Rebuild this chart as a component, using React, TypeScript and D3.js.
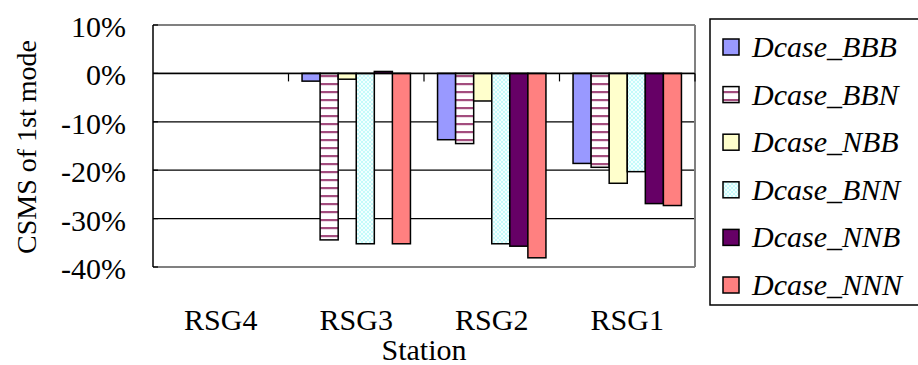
import React from 'react';
import * as d3 from 'd3';

const stations = ['RSG4', 'RSG3', 'RSG2', 'RSG1'];
const seriesNames = ['Dcase_BBB', 'Dcase_BBN', 'Dcase_NBB', 'Dcase_BNN', 'Dcase_NNB', 'Dcase_NNN'];
// values per station (fraction), null = no bar
const BBB = [null, -0.016, -0.137, -0.186];
const BBN = [null, -0.344, -0.145, -0.194];
const NBB = [null, -0.012, -0.057, -0.227];
const BNN = [null, -0.352, -0.352, -0.203];
const NNB = [null, 0.004, -0.357, -0.269];
const NNN = [null, -0.352, -0.381, -0.273];
const seriesValues = [BBB, BBN, NBB, BNN, NNB, NNN];
const yTicks = [0.1, 0, -0.1, -0.2, -0.3, -0.4];

const fills = ['#9999ff', 'url(#stripes)', '#ffffcc', 'url(#hatch)', '#660066', '#ff8080'];
const FONT = 'Liberation Serif, Tinos, DejaVu Serif, serif';

const App: React.FC = () => {
  const W = 918, H = 365;
  const left = 153, right = 695, top = 25, bottom = 267;

  const y = d3.scaleLinear().domain([-0.4, 0.1]).range([bottom, top]);
  const x = d3.scaleBand<string>().domain(stations).range([left, right]).padding(0);
  const xs = d3.scaleBand<string>().domain(seriesNames).range([0, x.bandwidth()])
    .paddingInner(0).paddingOuter(0.75);
  const fmt = (v: number) => `${Math.round(v * 100)}%`;
  const y0 = y(0);
  const txt = { fontFamily: FONT, fontSize: 30 };

  return (
    <svg width={W} height={H} style={{ position: 'absolute', left: 0, top: 0 }}>
      <defs>
        <pattern id="stripes" width="8" height="8" patternUnits="userSpaceOnUse">
          <rect width="8" height="8" fill="#fff" />
          <rect y="3" width="8" height="2.2" fill="#a34d7e" />
        </pattern>
        <pattern id="hatch" width="4" height="4" patternUnits="userSpaceOnUse">
          <rect width="4" height="4" fill="#f2ffff" />
          <path d="M0,0 L4,4 M4,0 L0,4" stroke="#c4fafa" strokeWidth="1" />
        </pattern>
      </defs>
      <rect width={W} height={H} fill="#fff" />

      {/* gridlines */}
      {yTicks.map(t => (
        <line key={t} x1={left} x2={right} y1={y(t)} y2={y(t)}
          stroke={t === 0.1 || t === -0.4 ? '#808080' : '#000'} strokeWidth={t === 0.1 || t === -0.4 ? 2 : 1.2} />
      ))}
      <line x1={right} x2={right} y1={top} y2={bottom} stroke="#808080" strokeWidth={2} />

      {/* bars */}
      {seriesNames.map((s, si) =>
        stations.map((st, ci) => {
          const v = seriesValues[si][ci];
          if (v === null) return null;
          const bx = (x(st) as number) + (xs(s) as number);
          const yy = Math.min(y(v), y0);
          const h = Math.abs(y(v) - y0);
          return (
            <rect key={s + st} x={bx} y={yy} width={xs.bandwidth()} height={h}
              fill={fills[si]} stroke="#000" strokeWidth={1.5} />
          );
        })
      )}

      {/* zero axis line with category ticks */}
      <line x1={left} x2={right} y1={y0} y2={y0} stroke="#000" strokeWidth={1.5} />
      {stations.map(st => (
        <line key={st} x1={(x(st) as number) + x.bandwidth()} x2={(x(st) as number) + x.bandwidth()}
          y1={y0} y2={y0 + 8} stroke="#000" strokeWidth={1.2} />
      ))}

      {/* y axis */}
      <line x1={left} x2={left} y1={top} y2={bottom} stroke="#000" strokeWidth={1.5} />
      {yTicks.map(t => (
        <g key={t}>
          <line x1={left} x2={left + 5} y1={y(t)} y2={y(t)} stroke="#000" strokeWidth={1.2} />
          <text x={126} y={y(t) + 12} textAnchor="end" style={txt} fill="#000">{fmt(t)}</text>
        </g>
      ))}

      {/* x labels */}
      {stations.map(st => (
        <text key={st} x={(x(st) as number) + x.bandwidth() / 2} y={330} textAnchor="middle"
          style={txt} fill="#000">{st}</text>
      ))}
      <text x={(left + right) / 2} y={360} textAnchor="middle" style={txt} fill="#000">Station</text>
      <text transform={`translate(36,147) rotate(-90)`} textAnchor="middle"
        style={{ ...txt, fontSize: 28 }} fill="#000">CSMS of 1st mode</text>

      {/* legend */}
      <rect x={710} y={19} width={230} height={286} fill="#fff" stroke="#000" strokeWidth={1.5} />
      {seriesNames.map((s, i) => {
        const cy = 47 + i * 47.6;
        return (
          <g key={s}>
            <rect x={723} y={cy - 8} width={16} height={16} fill={fills[i]} stroke="#000" strokeWidth={1.5} />
            <text x={752} y={cy + 10} style={{ ...txt, fontStyle: 'italic' }} fill="#000">{s}</text>
          </g>
        );
      })}
    </svg>
  );
};

export default App;
